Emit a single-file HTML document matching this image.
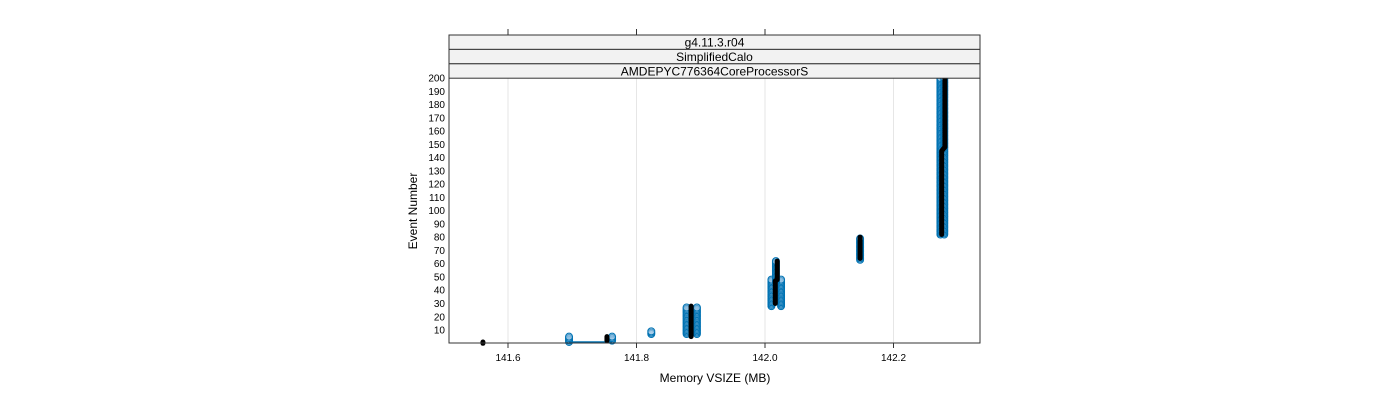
<!DOCTYPE html>
<html><head><meta charset="utf-8"><style>
body{margin:0;background:#fff;}
svg{display:block;font-family:"Liberation Sans",sans-serif;}
</style></head><body>
<svg id="chart" width="1400" height="400">
<g id="grid"></g>
<g id="marks"></g>
<g id="axes"></g>
</svg>
<script>
const xTicks=[141.6,141.8,142.0,142.2];
const yTicks=[10,20,30,40,50,60,70,80,90,100,110,120,130,140,150,160,170,180,190,200];
const stripLabels=["g4.11.3.r04","SimplifiedCalo","AMDEPYC776364CoreProcessorS"];
// blue runs: x value, first event, last event
const blueX=[141.695,141.762,141.823,141.878,141.894,142.010,142.025,142.017,142.148,142.273,142.279];
const blueMin=[1,2,7,7,7,28,28,46,63,82,82];
const blueMax=[5,5,9,27,27,48,48,62,79,200,200];
// black median path, grouped by cluster (group id separates disconnected pieces)
const blackGroup=[0,0,1,1,2,2,3,3,3,3,4,4,5,5,5,5];
const blackX=[141.561,141.561,141.754,141.754,141.885,141.885,142.016,142.016,142.019,142.019,142.148,142.148,142.275,142.275,142.280,142.280];
const blackY=[0,1,2,5,5,28,30,47,48,62,64,80,82,145,148,200];
const blueLinkX=[141.695,141.762]; const blueLinkY=[1,1];

const X0=449,X1=980,Y0=78,Y1=343;
const sx=v=>508+(v-141.6)*642.5;
const sy=v=>343.3-v*1.3263;
const NS="http://www.w3.org/2000/svg";
function mk(tag,attrs,parent,name){const e=document.createElementNS(NS,tag);for(const k in attrs)e.setAttribute(k,attrs[k]);


parent.appendChild(e);return e;}
const grid=document.getElementById('grid'),marks=document.getElementById('marks'),axes=document.getElementById('axes');
xTicks.forEach(t=>{mk('line',{x1:sx(t),x2:sx(t),y1:Y0,y2:Y1,stroke:'#e6e6e6'},grid,'x-gridline');});
blueX.forEach((x,i)=>{for(let e=blueMin[i];e<=blueMax[i];e++){mk('circle',{cx:sx(x),cy:sy(e),r:3.5,fill:'#9cc6e6','fill-opacity':0.5,stroke:'#0072b2','stroke-width':1},marks,'blue-point');}});
mk('polyline',{points:blueLinkX.map((x,i)=>sx(x)+','+sy(blueLinkY[i])).join(' '),fill:'none',stroke:'#0072b2','stroke-width':1.5},marks,'blue-line');
const groups={};
blackX.forEach((x,i)=>{(groups[blackGroup[i]]=groups[blackGroup[i]]||[]).push(sx(x)+','+sy(blackY[i]));});
Object.keys(groups).forEach(g=>{
mk('polyline',{points:groups[g].join(' '),fill:'none',stroke:'#000','stroke-width':5,'stroke-linejoin':'round','stroke-linecap':'round'},marks,'median-line');});
mk('rect',{x:X0,y:Y0,width:X1-X0,height:Y1-Y0,fill:'none',stroke:'#333'},axes,'plot-frame');
stripLabels.forEach((s,i)=>{const y=35+i*14.4;
mk('rect',{x:X0,y:y,width:X1-X0,height:14.4,fill:'#f2f2f2',stroke:'#333'},axes,'strip-'+i);
const t=mk('text',{x:(X0+X1)/2,y:y+11.5,'text-anchor':'middle','font-size':12,fill:'#000'},axes,'strip-label');t.textContent=s;});
xTicks.forEach(t=>{
mk('line',{x1:sx(t),x2:sx(t),y1:Y1,y2:Y1+5,stroke:'#333'},axes,'x-tick');
mk('line',{x1:sx(t),x2:sx(t),y1:29,y2:35,stroke:'#333'},axes,'x-tick-top');
const l=mk('text',{x:sx(t),y:361,'text-anchor':'middle','font-size':10},axes,'x-tick-label');l.textContent=t.toFixed(1);});
yTicks.forEach(t=>{const l=mk('text',{x:445,y:sy(t)+3.5,'text-anchor':'end','font-size':10},axes,'y-tick-label');l.textContent=t;});
const xt=mk('text',{x:715,y:382,'text-anchor':'middle','font-size':12},axes,'x-axis-title');xt.textContent='Memory VSIZE (MB)';
const yt=mk('text',{x:417,y:211,'text-anchor':'middle','font-size':12,transform:'rotate(-90 417 211)'},axes,'y-axis-title');yt.textContent='Event Number';
</script>
</body></html>
